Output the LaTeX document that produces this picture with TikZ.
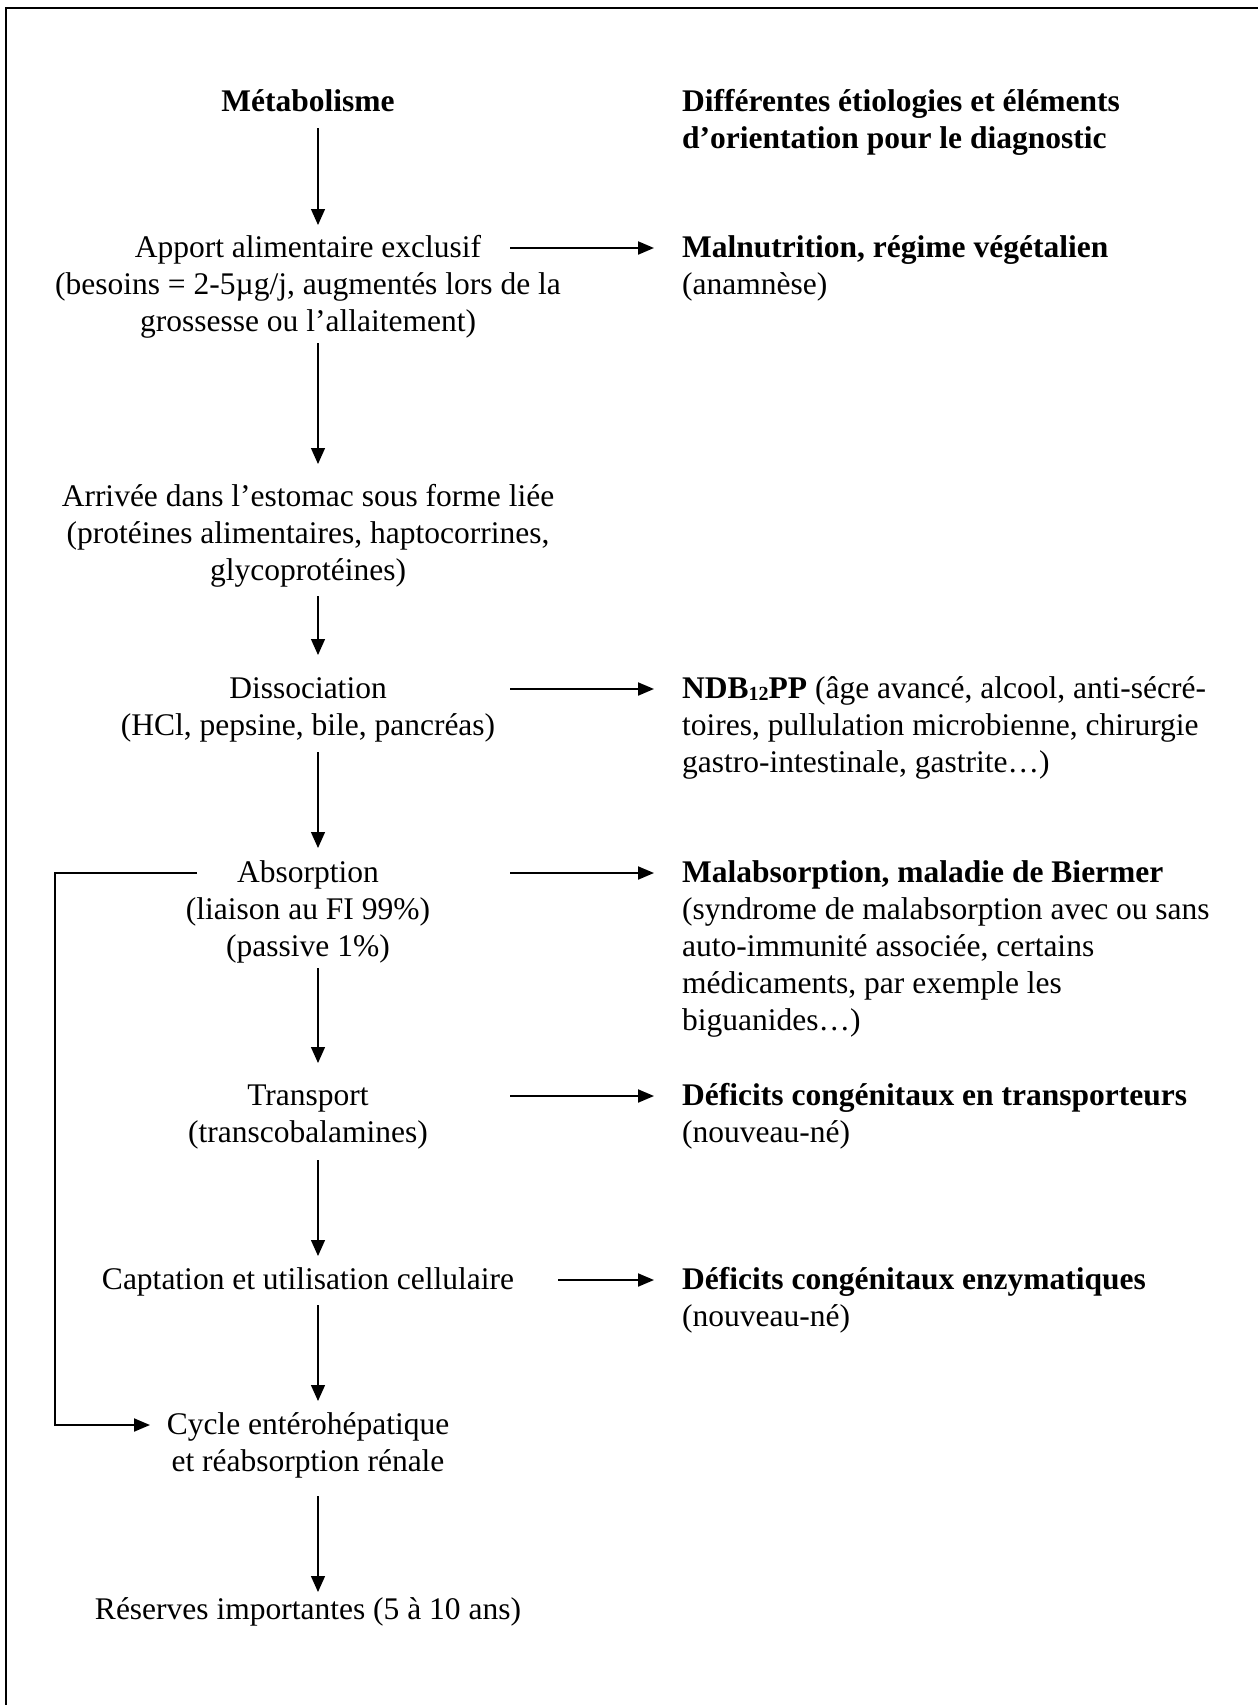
\documentclass[tikz,border=0pt]{standalone}
\usepackage{fontspec}
\setmainfont{Liberation Serif}
\usetikzlibrary{arrows.meta,calc}
\newcommand\cblock[1]{\vtop{\baselineskip=37pt\lineskiplimit=-100pt\halign{\hfil##\hfil\cr#1\crcr}}}
\newcommand\lblock[1]{\vtop{\baselineskip=37pt\lineskiplimit=-100pt\halign{##\hfil\cr#1\crcr}}}
\begin{document}
\begin{tikzpicture}[x=1pt,y=-1pt,
  txt/.style={inner sep=0pt, font=\fontsize{31.5}{37}\selectfont},
  ltxt/.style={txt, anchor=base},
  rtxt/.style={txt, anchor=base west},
  varrow/.style={line width=1.3pt, -{Triangle[length=16pt,width=14pt]}},
  harrow/.style={line width=2pt, -{Triangle[length=16pt,width=13pt]}},
  fbline/.style={line width=2pt, -{Triangle[length=16pt,width=13pt]}},
  frame/.style={line width=2pt}]
\useasboundingbox (0,0) rectangle (1258,1705);
\fill[white] (0,0) rectangle (1258,1705);
\draw[frame] (6,1706) -- (6,8) -- (1259,8);

\coordinate (ax) at (318,0);
\coordinate (hx) at (510,0);
\coordinate (hx2) at (558,0);
\coordinate (tx) at (654,0);
\coordinate (fx) at (55,0);
\coordinate (fs) at (197,0);
\coordinate (fe) at (150,0);

\node[ltxt] (met) at (308,111) {\bfseries Métabolisme};
\node[rtxt] (hdr) at (682,111) {\bfseries\lblock{Différentes étiologies et éléments\cr d’orientation pour le diagnostic}};

\node[ltxt] (app) at (308,257) {\cblock{Apport alimentaire exclusif\cr(besoins = 2-5µg/j, augmentés lors de la\cr grossesse ou l’allaitement)}};
\node[rtxt] (mal) at (682,257) {\lblock{\textbf{Malnutrition, régime végétalien}\cr(anamnèse)}};

\node[ltxt] (arr) at (308,506) {\cblock{Arrivée dans l’estomac sous forme liée\cr(protéines alimentaires, haptocorrines,\cr glycoprotéines)}};

\node[ltxt] (dis) at (308,698) {\cblock{Dissociation\cr(HCl, pepsine, bile, pancréas)}};
\node[rtxt] (ndb) at (682,698) {\lblock{\textbf{NDB\raisebox{-2pt}{\fontsize{20}{20}\selectfont 12}PP} (âge avancé, alcool, anti-sécré-\cr toires, pullulation microbienne, chirurgie\cr gastro-intestinale, gastrite…)}};

\node[ltxt] (abs) at (308,882) {\cblock{Absorption\cr(liaison au FI 99\%)\cr(passive 1\%)}};
\node[rtxt] (bie) at (682,882) {\lblock{\textbf{Malabsorption, maladie de Biermer}\cr(syndrome de malabsorption avec ou sans\cr auto-immunité associée, certains\cr médicaments, par exemple les\cr biguanides…)}};

\node[ltxt] (tra) at (308,1105) {\cblock{Transport\cr(transcobalamines)}};
\node[rtxt] (dct) at (682,1105) {\lblock{\textbf{Déficits congénitaux en transporteurs}\cr(nouveau-né)}};

\node[ltxt] (cap) at (308,1289) {Captation et utilisation cellulaire};
\node[rtxt] (dce) at (682,1289) {\lblock{\textbf{Déficits congénitaux enzymatiques}\cr(nouveau-né)}};

\node[ltxt] (cyc) at (308,1434) {\cblock{Cycle entérohépatique\cr et réabsorption rénale}};

\node[ltxt] (res) at (308,1619) {Réserves importantes (5 à 10 ans)};

% vertical arrows
\draw[varrow] ($(met.base -| ax)+(0,17)$) -- ($(app.base -| ax)+(0,-32)$);
\draw[varrow] ($(app.base -| ax)+(0,86)$) -- ($(arr.base -| ax)+(0,-42)$);
\draw[varrow] ($(arr.base -| ax)+(0,90)$) -- ($(dis.base -| ax)+(0,-43)$);
\draw[varrow] ($(dis.base -| ax)+(0,54)$) -- ($(abs.base -| ax)+(0,-34)$);
\draw[varrow] ($(abs.base -| ax)+(0,86)$) -- ($(tra.base -| ax)+(0,-42)$);
\draw[varrow] ($(tra.base -| ax)+(0,55)$) -- ($(cap.base -| ax)+(0,-33)$);
\draw[varrow] ($(cap.base -| ax)+(0,16)$) -- ($(cyc.base -| ax)+(0,-33)$);
\draw[varrow] ($(cyc.base -| ax)+(0,62)$) -- ($(res.base -| ax)+(0,-27)$);

% horizontal arrows
\draw[harrow] ($(app.base -| hx)+(0,-9)$) -- ($(mal.base -| tx)+(0,-9)$);
\draw[harrow] ($(dis.base -| hx)+(0,-9)$) -- ($(ndb.base -| tx)+(0,-9)$);
\draw[harrow] ($(abs.base -| hx)+(0,-9)$) -- ($(bie.base -| tx)+(0,-9)$);
\draw[harrow] ($(tra.base -| hx)+(0,-9)$) -- ($(dct.base -| tx)+(0,-9)$);
\draw[harrow] ($(cap.base -| hx2)+(0,-9)$) -- ($(dce.base -| tx)+(0,-9)$);

% feedback
\draw[fbline] ($(abs.base -| fs)+(0,-9)$) -| ($(cyc.base -| fx)+(0,-9)$) -- ($(cyc.base -| fe)+(0,-9)$);
\end{tikzpicture}
\end{document}
